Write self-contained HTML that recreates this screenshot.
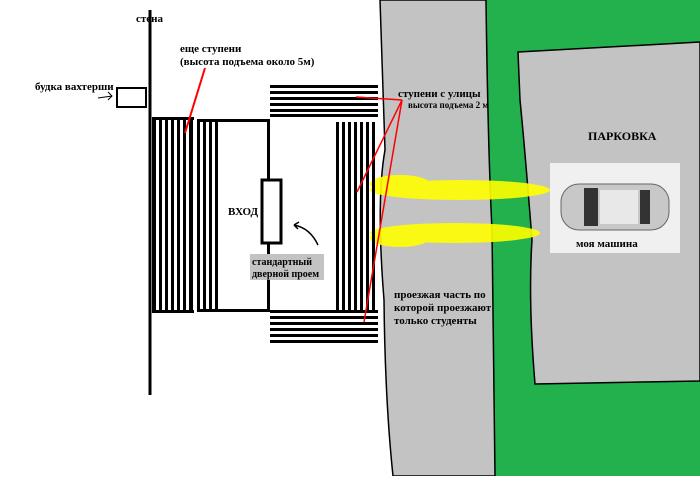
<!DOCTYPE html><html><head><style>body{margin:0}svg text{font-family:"Liberation Serif",serif;font-weight:bold}</style></head><body>
<svg width="700" height="476" xmlns="http://www.w3.org/2000/svg">
<rect width="700" height="476" fill="#fff"/>
<path d="M486,0 L700,0 L700,476 L495,476 Z" fill="#22b14c"/>
<path d="M380,0 L486,0 Q488,150 492,230 L495,476 L393,476 Q385,400 384,300 Q376,200 385,150 Z" fill="#c3c3c3" stroke="#000" stroke-width="1.5"/>
<path d="M518,52 L700,42 L700,381 L535,384 Q528,300 532,240 Q525,150 520,100 Z" fill="#c3c3c3" stroke="#000" stroke-width="1.5"/>
<rect x="550" y="163" width="130" height="90" fill="#f0f0f0"/>
<g>
<rect x="561" y="184" width="108" height="46" rx="18" fill="#c8c8c8" stroke="#666"/>
<rect x="584" y="188" width="14" height="38" fill="#333"/>
<rect x="600" y="190" width="38" height="34" fill="#e8e8e8"/>
<rect x="640" y="190" width="10" height="34" fill="#333"/>
</g>
<text x="576" y="247" font-size="11">моя машина</text>
<text x="588" y="140" font-size="12">ПАРКОВКА</text>
<g fill="#ffff00" opacity="0.9">
<ellipse cx="460" cy="190" rx="90" ry="10"/><ellipse cx="400" cy="184" rx="30" ry="9"/>
<ellipse cx="455" cy="233" rx="85" ry="10"/><ellipse cx="400" cy="238" rx="30" ry="9"/>
</g>
<line x1="150" y1="10" x2="150" y2="395" stroke="#000" stroke-width="3"/>
<rect x="117" y="88" width="29" height="19" fill="#fff" stroke="#000" stroke-width="2"/>
<g fill="#000">
<rect x="152" y="117" width="42" height="3"/><rect x="152" y="310" width="42" height="3"/>
<rect x="152" y="117" width="4" height="196"/><rect x="159" y="117" width="3" height="196"/><rect x="165" y="117" width="3" height="196"/><rect x="171" y="117" width="3" height="196"/><rect x="177" y="117" width="3" height="196"/><rect x="183" y="117" width="3" height="196"/><rect x="189" y="117" width="4" height="196"/>
<rect x="197" y="122" width="3" height="188"/><rect x="203" y="122" width="3" height="188"/><rect x="209" y="122" width="3" height="188"/><rect x="215" y="122" width="3" height="188"/>
<rect x="197" y="119" width="72" height="3"/><rect x="197" y="309" width="72" height="3"/>
<rect x="267" y="119" width="3" height="193"/>
<rect x="270" y="85" width="108" height="3"/><rect x="270" y="91" width="108" height="3"/><rect x="270" y="97" width="108" height="3"/><rect x="270" y="103" width="108" height="3"/><rect x="270" y="109" width="108" height="3"/><rect x="270" y="114" width="108" height="3"/>
<rect x="270" y="310" width="108" height="3"/><rect x="270" y="316" width="108" height="3"/><rect x="270" y="322" width="108" height="3"/><rect x="270" y="328" width="108" height="3"/><rect x="270" y="334" width="108" height="3"/><rect x="270" y="340" width="108" height="3"/>
<rect x="336" y="122" width="3" height="188"/><rect x="342" y="122" width="3" height="188"/><rect x="348" y="122" width="3" height="188"/><rect x="354" y="122" width="3" height="188"/><rect x="360" y="122" width="3" height="188"/><rect x="366" y="122" width="3" height="188"/><rect x="372" y="122" width="3" height="188"/>
</g>
<rect x="262" y="180" width="19" height="63" fill="#fff" stroke="#000" stroke-width="3"/>
<rect x="250" y="254" width="74" height="26" fill="#c3c3c3"/>
<text x="252" y="265" font-size="10">стандартный</text>
<text x="252" y="277" font-size="10">дверной проем</text>
<text x="228" y="215" font-size="11">ВХОД</text>
<path d="M318,245 Q310,228 294,225 M294,225 l5,-3 M294,225 l4,4" stroke="#000" fill="none" stroke-width="1.5"/>
<text x="136" y="22" font-size="11">стена</text>
<text x="35" y="90" font-size="11">будка вахтерши</text>
<path d="M98,98 l14,-2 M108,92 l4,4 l-4,4" stroke="#000" fill="none"/>
<text x="180" y="52" font-size="11">еще ступени</text>
<text x="180" y="65" font-size="11">(высота подъема около 5м)</text>
<line x1="205" y1="68" x2="185" y2="133" stroke="red" stroke-width="2"/>
<g stroke="red" stroke-width="1.5">
<line x1="402" y1="100" x2="356" y2="97"/>
<line x1="402" y1="100" x2="357" y2="192"/>
<line x1="402" y1="100" x2="364" y2="322"/>
</g>
<text x="398" y="97" font-size="11">ступени с улицы</text>
<text x="408" y="108" font-size="9">высота подъема 2 м</text>
<text x="394" y="298" font-size="11">проезжая часть по</text>
<text x="394" y="311" font-size="11">которой проезжают</text>
<text x="394" y="324" font-size="11">только студенты</text>
</svg></body></html>
